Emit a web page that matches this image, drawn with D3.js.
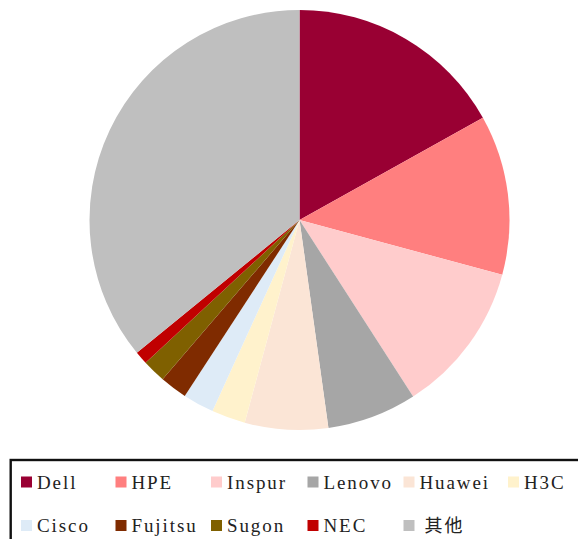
<!DOCTYPE html>
<html>
<head>
<meta charset="utf-8">
<script src="https://cdn.jsdelivr.net/npm/d3@7"></script>
<style>
  html, body { margin: 0; padding: 0; background: #fff; }
  svg { display: block; }
</style>
</head>
<body>
<svg id="chart" width="578" height="539"></svg>
<script>
// Server vendor market share (%)
const vendors = ["Dell", "HPE", "Inspur", "Lenovo", "Huawei", "H3C", "Cisco", "Fujitsu", "Sugon", "NEC", "其他"];
const shares  = [16.9, 12.3, 11.7, 6.9, 6.4, 2.6, 2.4, 2.1, 1.8, 1.0, 35.9];
const colors  = ["#990033", "#FF7F7F", "#FFCCCC", "#A6A6A6", "#FBE5D6", "#FFF2CC",
                 "#DEEBF7", "#7F2B00", "#7F6000", "#C00000", "#BFBFBF"];

const svg = d3.select("#chart");
const cx = 299.5, cy = 220, radius = 210;

const color = d3.scaleOrdinal().domain(vendors).range(colors);

const pie = d3.pie().sort(null).value(d => d.value);
const arc = d3.arc().innerRadius(0).outerRadius(radius);

const data = vendors.map((name, i) => ({ name, value: shares[i] }));

svg.append("g")
  .attr("transform", `translate(${cx},${cy})`)
  .selectAll("path")
  .data(pie(data))
  .join("path")
  .attr("d", arc)
  .attr("fill", d => color(d.data.name));

// Legend box (extends past the right and bottom edges)
svg.append("rect")
  .attr("x", 10.7).attr("y", 460)
  .attr("width", 600).attr("height", 100)
  .attr("fill", "none")
  .attr("stroke", "#111")
  .attr("stroke-width", 2.4);

const colX = [21, 115.5, 211, 307.5, 403.5, 508];
const rowY = [476.5, 520];
const perRow = 6;
const isCJK = s => /[\u4e00-\u9fff]/.test(s);

const items = svg.append("g")
  .selectAll("g")
  .data(vendors)
  .join("g")
  .attr("transform", (d, i) => `translate(${colX[i % perRow]},${rowY[Math.floor(i / perRow)]})`);

items.append("rect")
  .attr("width", 11).attr("height", 11)
  .attr("fill", d => color(d));

items.append("text")
  .attr("x", d => isCJK(d) ? 21 : 16)
  .attr("y", 12.3)
  .style("font-family", d => isCJK(d)
    ? "'Noto Sans CJK SC', sans-serif"
    : "'Liberation Serif', serif")
  .style("font-size", d => isCJK(d) ? "18px" : "19px")
  .style("letter-spacing", d => isCJK(d) ? "2px" : "1.9px")
  .attr("fill", "#222")
  .text(d => d);
</script>
</body>
</html>
